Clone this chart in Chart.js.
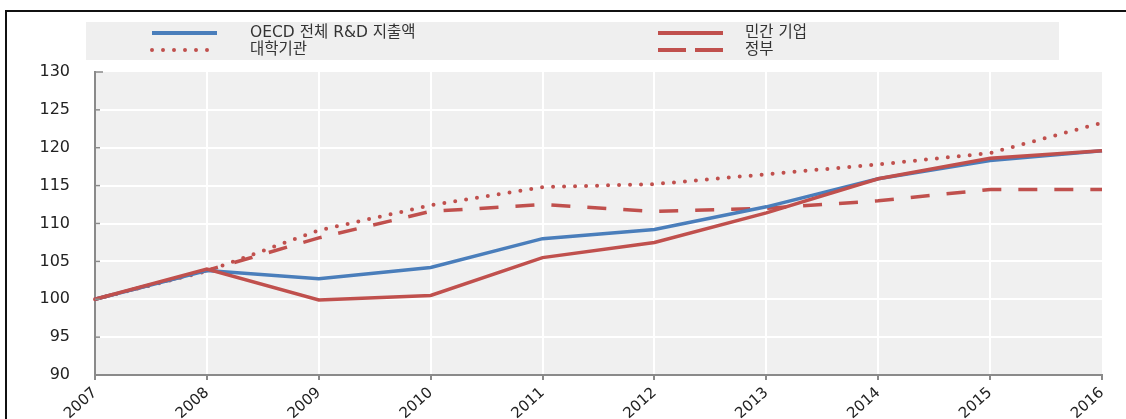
<!DOCTYPE html>
<html>
<head>
<meta charset="utf-8">
<script src="https://cdn.jsdelivr.net/npm/chart.js@4/dist/chart.umd.min.js"></script>
<style>
  html, body { margin: 0; padding: 0; background: #fff; overflow: hidden; }
  #wrap { position: relative; width: 1126px; height: 419px; }
</style>
</head>
<body>
<div id="wrap"><canvas id="chart" width="1126" height="419"></canvas></div>
<script>
// Index of R&D expenditure, 2007 = 100
const years = ['2007', '2008', '2009', '2010', '2011', '2012', '2013', '2014', '2015', '2016'];
const oecdTotal  = [100, 103.8, 102.7, 104.2, 108.0, 109.2, 112.2, 115.9, 118.3, 119.6];
const business   = [100, 104.0,  99.9, 100.5, 105.5, 107.5, 111.4, 115.9, 118.6, 119.6];
const higherEdu  = [100, 103.7, 109.1, 112.4, 114.8, 115.2, 116.5, 117.8, 119.3, 123.3];
const government = [100, 103.8, 108.1, 111.6, 112.5, 111.6, 112.0, 113.0, 114.5, 114.5];

const seriesNames = ['OECD 전체 R&D 지출액', '민간 기업', '대학기관', '정부'];
const yTicks = { min: 90, max: 130, step: 5 };

const BLUE = '#4a7ebb';
const RED = '#c0504d';
const FONT = "'DejaVu Sans', 'Noto Sans CJK KR', sans-serif";

// page frame, plot background and inward y tick marks
const framePlugin = {
  id: 'frame',
  beforeDraw(chart) {
    const { ctx, chartArea: a } = chart;
    ctx.save();
    ctx.fillStyle = '#fff';
    ctx.fillRect(0, 0, chart.width, chart.height);
    ctx.fillStyle = '#f0f0f0';
    ctx.fillRect(a.left, a.top, a.right - a.left, a.bottom - a.top);
    ctx.strokeStyle = '#111';
    ctx.lineWidth = 2;
    ctx.beginPath();
    ctx.moveTo(6, chart.height);
    ctx.lineTo(6, 11);
    ctx.lineTo(chart.width + 2, 11);
    ctx.stroke();
    ctx.restore();
  },
  afterDraw(chart) {
    const { ctx, chartArea: a } = chart;
    const y = chart.scales.y;
    ctx.save();
    ctx.strokeStyle = '#8a8a8a';
    ctx.lineWidth = 1.5;
    y.ticks.forEach((t, i) => {
      const py = y.getPixelForTick(i);
      ctx.beginPath();
      ctx.moveTo(a.left, py);
      ctx.lineTo(a.left + (t.value === yTicks.max ? 8 : 5), py);
      ctx.stroke();
    });
    ctx.restore();
  }
};

// two-column legend band above the plot
const legendPlugin = {
  id: 'bandLegend',
  afterDraw(chart) {
    const { ctx } = chart;
    ctx.save();
    ctx.fillStyle = '#efefef';
    ctx.fillRect(86, 22, 973, 38);
    const slots = [
      { x: 152, tx: 250, y: 33 },
      { x: 658, tx: 745, y: 33 },
      { x: 152, tx: 250, y: 50 },
      { x: 658, tx: 745, y: 50 }
    ];
    chart.data.datasets.forEach(ds => {
      const s = slots[ds.legendSlot];
      ctx.strokeStyle = ds.borderColor;
      ctx.lineWidth = 4;
      ctx.lineCap = ds.borderCapStyle || 'butt';
      ctx.setLineDash(ds.legendDash || []);
      ctx.beginPath();
      ctx.moveTo(s.x, s.y);
      ctx.lineTo(s.x + 65, s.y);
      ctx.stroke();
      ctx.setLineDash([]);
      ctx.fillStyle = '#333';
      ctx.font = '15.5px ' + FONT;
      ctx.textBaseline = 'middle';
      ctx.textAlign = 'left';
      ctx.fillText(ds.label, s.tx, s.y);
    });
    ctx.restore();
  }
};

const line = (label, data, color, extra) => Object.assign({
  label, data,
  borderColor: color,
  backgroundColor: color,
  borderWidth: 3.5,
  pointRadius: 0,
  tension: 0,
  fill: false
}, extra);

new Chart(document.getElementById('chart'), {
  type: 'line',
  data: {
    labels: years,
    datasets: [
      line(seriesNames[1], business, RED, { order: 0, legendSlot: 1 }),
      line(seriesNames[0], oecdTotal, BLUE, { order: 1, legendSlot: 0 }),
      line(seriesNames[3], government, RED, { order: 2, legendSlot: 3,
        borderDash: [19, 17], legendDash: [28, 9] }),
      line(seriesNames[2], higherEdu, RED, { order: 3, legendSlot: 2,
        borderWidth: 4, borderDash: [0, 11], borderCapStyle: 'round', legendDash: [0, 11] })
    ]
  },
  options: {
    responsive: false,
    animation: false,
    devicePixelRatio: 1,
    layout: { padding: { left: 0, right: 24, top: 72, bottom: 0 } },
    plugins: { legend: { display: false }, tooltip: { enabled: false } },
    scales: {
      x: {
        type: 'category',
        offset: false,
        border: { display: true, color: '#8a8a8a', width: 2 },
        grid: {
          color: c => (c.index === years.length - 1 ? 'rgba(0,0,0,0)' : '#ffffff'),
          lineWidth: 2,
          drawTicks: true,
          tickLength: 5,
          tickColor: '#8a8a8a'
        },
        ticks: {
          minRotation: 42, maxRotation: 42, autoSkip: false,
          padding: 4,
          color: '#222',
          font: { family: FONT, size: 15 }
        },
        afterFit(scale) { scale.height = 44; }
      },
      y: {
        min: yTicks.min, max: yTicks.max,
        border: { display: true, color: '#8a8a8a', width: 2 },
        grid: {
          color: c => (c.tick && c.tick.value === yTicks.max ? 'rgba(0,0,0,0)' : '#ffffff'),
          lineWidth: 2,
          drawTicks: false
        },
        ticks: {
          stepSize: yTicks.step,
          padding: 25,
          color: '#222',
          font: { family: FONT, size: 16 }
        },
        afterFit(scale) { scale.width = 95; }
      }
    }
  },
  plugins: [framePlugin, legendPlugin]
});
</script>
</body>
</html>
